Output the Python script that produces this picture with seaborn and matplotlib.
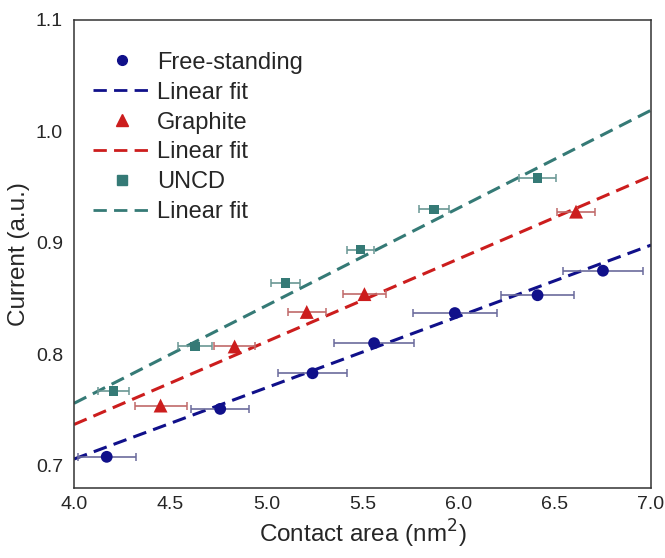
import numpy as np
import pandas as pd
import matplotlib
matplotlib.use("Agg")
import matplotlib.pyplot as plt
import seaborn as sns
from matplotlib.ticker import MultipleLocator
from matplotlib.lines import Line2D

# values
fs_x = [4.17, 4.76, 5.24, 5.56, 5.98, 6.41, 6.75]
fs_y = [0.708, 0.751, 0.783, 0.810, 0.837, 0.853, 0.875]
fs_err = [0.15, 0.15, 0.18, 0.21, 0.22, 0.19, 0.21]

gr_x = [4.45, 4.835, 5.21, 5.51, 6.61]
gr_y = [0.754, 0.807, 0.838, 0.854, 0.928]
gr_err = [0.135, 0.105, 0.10, 0.11, 0.10]

un_x = [4.205, 4.63, 5.10, 5.49, 5.87, 6.41]
un_y = [0.767, 0.807, 0.864, 0.894, 0.930, 0.958]
un_err = [0.08, 0.09, 0.075, 0.07, 0.078, 0.095]

# linear fit lines, value at x = 4 and x = 7
fit_x = [4.0, 7.0]
fs_fit = [0.706, 0.898]
gr_fit = [0.737, 0.960]
un_fit = [0.756, 1.019]

sns.set_theme(style="white")
plt.rcParams['font.family'] = ['Liberation Sans', 'DejaVu Sans']

fig = plt.figure(figsize=(6.65, 5.58), dpi=100)
ax = fig.add_axes([0.1113, 0.1254, 0.8677, 0.8388])

DASH = (4.5, 2.4)
series = [
    ("Free-standing", fs_x, fs_y, fs_err, fs_fit, "o", "#10108a", "#6b6b9c", 8.5, 7),
    ("Graphite", gr_x, gr_y, gr_err, gr_fit, "^", "#cc1d1d", "#c06a6a", 10, 8),
    ("UNCD", un_x, un_y, un_err, un_fit, "s", "#357a76", "#6a9794", 7, 6.5),
]

handles = []
for name, x, y, err, fit, mk, col, ecol, ms, lms in series:
    ax.errorbar(x, y, xerr=err, fmt="none", ecolor=ecol, elinewidth=1.2,
                capsize=3, capthick=1.1, zorder=2)
    df_fit = pd.DataFrame({"x": fit_x, "y": fit})
    sns.lineplot(data=df_fit, x="x", y="y", ax=ax, color=col, lw=2.2,
                 zorder=1)
    ax.lines[-1].set_dashes(DASH)
    df = pd.DataFrame({"x": x, "y": y})
    sns.scatterplot(data=df, x="x", y="y", ax=ax, marker=mk, color=col,
                    s=ms ** 2, edgecolor="none", zorder=3)
    handles.append(Line2D([], [], marker=mk, color=col, ls="none",
                          markersize=lms, label=name))
    handles.append(Line2D([], [], color=col, lw=2.0, dashes=(4.8, 2.6),
                          label="Linear fit"))

ax.set_xlim(4.0, 7.0)
ax.set_ylim(0.68, 1.1)
ax.xaxis.set_major_locator(MultipleLocator(0.5))
ax.xaxis.set_minor_locator(MultipleLocator(0.25))
ax.yaxis.set_major_locator(MultipleLocator(0.1))
ax.yaxis.set_minor_locator(MultipleLocator(0.05))
ax.tick_params(which="both", direction="in", top=False, right=False,
               labelsize=14, color="#333333")
ax.tick_params(which="major", length=6, width=1)
ax.tick_params(which="minor", length=3, width=1)
ax.tick_params(axis="x", pad=6)
ax.tick_params(axis="y", pad=8)
for sp in ax.spines.values():
    sp.set_color("#333333")
    sp.set_linewidth(1.1)

ax.set_xlabel("Contact area (nm$^2$)", fontsize=17.5, labelpad=3)
ax.set_ylabel("Current (a.u.)", fontsize=17.5, labelpad=4)

ax.legend(handles=handles, loc="upper left", bbox_to_anchor=(0.004, 0.9675),
          frameon=False, fontsize=17, handlelength=2.46, handletextpad=0.25,
          labelspacing=0.335, borderaxespad=0.3)

fig.savefig("out.png", dpi=100)
